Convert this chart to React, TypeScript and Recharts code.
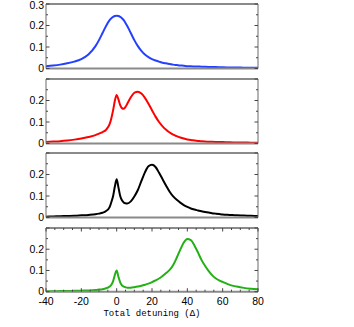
import React from 'react';
import { LineChart, Line, XAxis, YAxis } from 'recharts';

// Total detuning (Δ) sample positions
const detuning = [
  -40, -36, -32, -28, -24, -20, -16, -12,
  -10, -8, -6, -4,
  -3, -2, -1, 0, 1, 2, 3, 4, 5, 6,
  8, 10, 12, 14, 16, 18, 20, 22, 24, 26, 28, 30, 32, 34, 36, 38, 40, 42, 44, 46, 48, 50, 52, 54, 56, 58, 60,
  64, 68, 72, 76, 80,
];

const blueSeries = [
  0.011, 0.014, 0.018, 0.024, 0.032, 0.044, 0.065, 0.104,
  0.132, 0.165, 0.198, 0.225,
  0.234, 0.24, 0.244, 0.245, 0.244, 0.24, 0.234, 0.225, 0.212, 0.198,
  0.165, 0.132, 0.104, 0.082, 0.065, 0.053, 0.044, 0.037, 0.032, 0.027, 0.024, 0.021, 0.018, 0.016, 0.014, 0.013, 0.011, 0.01, 0.0095, 0.009, 0.0085, 0.008, 0.0075, 0.007, 0.0065, 0.006, 0.0055,
  0.005, 0.0045, 0.004, 0.0035, 0.003,
];

const redSeries = [
  0.007, 0.009, 0.011, 0.014, 0.018, 0.023, 0.03, 0.039,
  0.046, 0.053, 0.064, 0.09,
  0.118, 0.155, 0.2, 0.226, 0.205, 0.178, 0.164, 0.162, 0.17, 0.185,
  0.215, 0.236, 0.241, 0.232, 0.212, 0.185, 0.155, 0.125, 0.1, 0.08, 0.064, 0.051, 0.041, 0.034, 0.028, 0.023, 0.019, 0.016, 0.014, 0.012, 0.01, 0.009, 0.0085, 0.008, 0.0075, 0.007, 0.0065,
  0.0055, 0.005, 0.0045, 0.004, 0.0035,
];

const blackSeries = [
  0.004, 0.005, 0.006, 0.007, 0.008, 0.01, 0.012, 0.015,
  0.018, 0.022, 0.03, 0.048,
  0.072, 0.1, 0.145, 0.178, 0.14, 0.1, 0.08, 0.07, 0.066, 0.065,
  0.075, 0.098, 0.128, 0.17, 0.21, 0.238, 0.245, 0.235, 0.208, 0.178, 0.148, 0.12, 0.098, 0.082, 0.069, 0.058, 0.049, 0.042, 0.037, 0.033, 0.029, 0.026, 0.023, 0.02, 0.018, 0.016, 0.014,
  0.012, 0.01, 0.009, 0.008, 0.007,
];

const greenSeries = [
  0.002, 0.002, 0.003, 0.003, 0.004, 0.005, 0.006, 0.008,
  0.01, 0.012, 0.016, 0.024,
  0.033, 0.05, 0.08, 0.1, 0.07, 0.044, 0.03, 0.024, 0.021, 0.019,
  0.019, 0.021, 0.024, 0.028, 0.033, 0.038, 0.045, 0.053, 0.062, 0.074, 0.088, 0.103, 0.126, 0.16, 0.198, 0.232, 0.248, 0.243, 0.218, 0.185, 0.15, 0.122, 0.098, 0.078, 0.063, 0.053, 0.046,
  0.032, 0.024, 0.018, 0.014, 0.011,
];

const yTicks = [0, 0.05, 0.1, 0.15, 0.2, 0.25, 0.3];
const yLabelsFirst: Record<string, string> = { '0': '0', '0.1': '0.1', '0.2': '0.2', '0.3': '0.3' };
const yLabelsOther: Record<string, string> = { '0': '0', '0.1': '0.1', '0.2': '0.2' };
const yMajor = [0, 0.1, 0.2, 0.3];

const xTicks = [-40, -35, -30, -25, -20, -15, -10, -5, 0, 5, 10, 15, 20, 25, 30, 35, 40, 45, 50, 55, 60, 65, 70, 75, 80];
const xMajor = [-40, -20, 0, 20, 40, 60, 80];
const xLabels = ['-40', '-20', '0', '20', '40', '60', '80'];
const xTitle = 'Total detuning (\u0394)';

const panels = [
  { key: 'blue', color: '#2440ff', labels: yLabelsFirst, top: 4 },
  { key: 'red', color: '#ff0000', labels: yLabelsOther, top: 78.7 },
  { key: 'black', color: '#000000', labels: yLabelsOther, top: 153.4 },
  { key: 'green', color: '#22b014', labels: yLabelsOther, top: 228.1 },
];

const data = detuning.map((x, i) => ({
  x,
  blue: blueSeries[i],
  red: redSeries[i],
  black: blackSeries[i],
  green: greenSeries[i],
}));

const NUM_FONT = "'Liberation Sans',Arial,Helvetica,sans-serif";
const MONO_FONT = "'Liberation Mono','DejaVu Sans Mono',monospace";
const FRAME = '#8a8a8a';
const SIDE = '#6a6a6a';
const TICK = '#444';

const PAD = 10; // room around each panel inside its svg

const isMajorY = (v: number) => yMajor.some((m) => Math.abs(m - v) < 1e-9);
const isMajorX = (v: number) => xMajor.includes(v);

const LeftTick = (props: any) => {
  const { x, y, payload, labels } = props;
  const v = payload.value as number;
  const label = labels[String(Math.round(v * 100) / 100)];
  const len = isMajorY(v) ? 3.5 : 2;
  const isTop = Math.abs(v - 0.3) < 1e-9;
  const isZero = v === 0;
  return (
    <g>
      <line x1={x} y1={y} x2={x + len} y2={y} stroke={TICK} strokeWidth={1} />
      {label && (
        <text
          x={x - 2}
          y={y}
          dy={isTop ? 4.8 : isZero ? 3.2 : 3.6}
          textAnchor="end"
          fontFamily={NUM_FONT}
          fontSize={10.5}
          fill="#000"
        >
          {label}
        </text>
      )}
    </g>
  );
};

const RightTick = (props: any) => {
  const { x, y, payload } = props;
  const v = payload.value as number;
  const len = isMajorY(v) ? 3.5 : 2;
  return <line x1={x} y1={y} x2={x - len} y2={y} stroke={TICK} strokeWidth={1} />;
};

const BottomTick = (props: any) => {
  const { x, y, payload } = props;
  const v = payload.value as number;
  const major = isMajorX(v);
  const idx = xMajor.indexOf(v);
  return (
    <g>
      <line x1={x} y1={y} x2={x} y2={y - (major ? 3.5 : 2)} stroke={TICK} strokeWidth={1} />
      {major && (
        <text x={x} y={y} dy={13} textAnchor="middle" fontFamily={NUM_FONT} fontSize={10.5} fill="#000">
          {xLabels[idx]}
        </text>
      )}
    </g>
  );
};

const TopTick = (props: any) => {
  const { x, y, payload } = props;
  const v = payload.value as number;
  const major = isMajorX(v);
  return <line x1={x} y1={y} x2={x} y2={y + (major ? 3.5 : 2)} stroke={TICK} strokeWidth={1} />;
};

const Panel = ({ p, last }: { p: (typeof panels)[number]; last: boolean }) => {
  const plotH = last ? 63.7 : 64.5;
  const bottomAxisH = last ? 30 : 1;
  const height = PAD + plotH + bottomAxisH + (last ? 0 : PAD - 1);
  return (
    <div style={{ position: 'absolute', left: 0, top: p.top - PAD }}>
      <LineChart
        width={354}
        height={height}
        data={data}
        margin={{ top: PAD - 1, right: 95, bottom: last ? 0 : PAD - 1, left: 0 }}
      >
        <XAxis
          xAxisId="b"
          dataKey="x"
          type="number"
          domain={[-40, 80]}
          ticks={xTicks}
          interval={0}
          allowDataOverflow
          height={bottomAxisH}
          tickSize={0}
          tickMargin={0}
          tickLine={false}
          axisLine={{ stroke: FRAME, strokeWidth: 2 }}
          tick={last ? (tp: any) => <BottomTick {...tp} /> : false}
          label={
            last
              ? {
                  value: xTitle,
                  position: 'insideBottom',
                  offset: 6,
                  style: { fontFamily: MONO_FONT, fontSize: 9, fill: '#000' },
                }
              : undefined
          }
        />
        <XAxis
          xAxisId="t"
          dataKey="x"
          type="number"
          orientation="top"
          domain={[-40, 80]}
          ticks={xTicks}
          interval={0}
          allowDataOverflow
          height={1}
          tickSize={0}
          tickMargin={0}
          tickLine={false}
          axisLine={{ stroke: FRAME, strokeWidth: 2 }}
          tick={last ? (tp: any) => <TopTick {...tp} /> : false}
        />
        <YAxis
          yAxisId="l"
          type="number"
          domain={[0, 0.3]}
          ticks={yTicks}
          interval={0}
          allowDataOverflow
          width={46}
          tickSize={0}
          tickMargin={0}
          tickLine={false}
          axisLine={{ stroke: SIDE, strokeWidth: 1 }}
          tick={(tp: any) => <LeftTick {...tp} labels={p.labels} />}
        />
        <YAxis
          yAxisId="r"
          type="number"
          orientation="right"
          domain={[0, 0.3]}
          ticks={yTicks}
          interval={0}
          allowDataOverflow
          width={1}
          tickSize={0}
          tickMargin={0}
          tickLine={false}
          axisLine={{ stroke: SIDE, strokeWidth: 1 }}
          tick={(tp: any) => <RightTick {...tp} />}
        />
        {/* invisible copy bound to the top/right frame axes so they are drawn */}
        <Line
          xAxisId="t"
          yAxisId="r"
          dataKey={p.key}
          type="monotone"
          stroke="none"
          strokeOpacity={0}
          dot={false}
          activeDot={false}
          legendType="none"
          isAnimationActive={false}
        />
        <Line
          xAxisId="b"
          yAxisId="l"
          dataKey={p.key}
          type="monotone"
          stroke={p.color}
          strokeWidth={2}
          dot={false}
          isAnimationActive={false}
        />
      </LineChart>
    </div>
  );
};

export default function App() {
  return (
    <div style={{ position: 'absolute', left: 0, top: 0, width: 354, height: 327, background: '#fff' }}>
      {panels.map((p, i) => (
        <Panel key={p.key} p={p} last={i === panels.length - 1} />
      ))}
    </div>
  );
}
